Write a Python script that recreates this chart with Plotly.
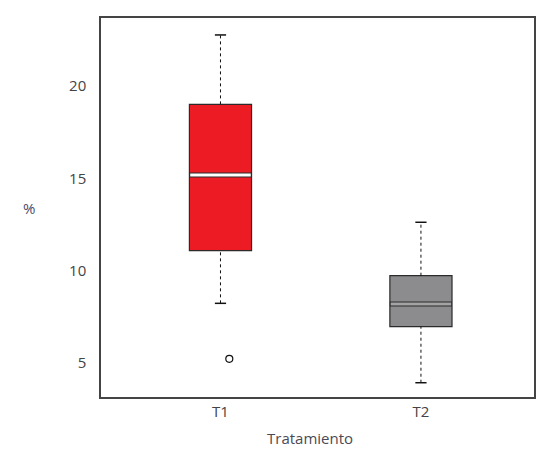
import plotly.graph_objects as go

# boxplot statistics
groups = ["T1", "T2"]
lower_whisker = [8.21, 3.90]
q1 = [11.07, 6.95]
median = [15.18, 8.18]
q3 = [19.01, 9.71]
upper_whisker = [22.78, 12.61]
outlier_group = ["T1"]
outlier_value = [5.2]

fills = ["#ED1C24", "#8C8C8E"]
gap_colors = ["#FFFFFF", "#A3A3A5"]
edge = "#2B2B2B"
pos = [1, 2]
w = 0.31

fig = go.Figure()

for i, g in enumerate(groups):
    p = pos[i]
    # dashed whiskers
    for a, b in [(lower_whisker[i], q1[i]), (q3[i], upper_whisker[i])]:
        fig.add_trace(go.Scatter(x=[p, p], y=[a, b], mode="lines",
                                 line=dict(color="#111111", width=1, dash="3px,3px")))
    # whisker caps
    fig.add_trace(go.Scatter(x=[p, p], y=[lower_whisker[i], upper_whisker[i]], mode="markers",
                             marker=dict(symbol="line-ew", size=8,
                                         line=dict(color="#111111", width=1.5))))
    # box
    fig.add_trace(go.Bar(x=[p], y=[q3[i] - q1[i]], base=[q1[i]], width=w,
                         marker=dict(color=fills[i], line=dict(color=edge, width=1.2))))
    # median drawn as a split
    fig.add_trace(go.Scatter(x=[p - w / 2, p + w / 2], y=[median[i], median[i]], mode="lines",
                             line=dict(color=edge, width=5)))
    fig.add_trace(go.Scatter(x=[p - w / 2 + 0.004, p + w / 2 - 0.004], y=[median[i], median[i]],
                             mode="lines", line=dict(color=gap_colors[i], width=3)))

# outliers
fig.add_trace(go.Scatter(x=[pos[groups.index(g)] + 0.044 for g in outlier_group], y=outlier_value,
                         mode="markers",
                         marker=dict(symbol="circle-open", size=7, color="#111111",
                                     line=dict(width=1.2))))

font = dict(family="Open Sans, DejaVu Sans", size=15, color="#444444")
fig.update_layout(
    width=548, height=459,
    margin=dict(l=101, r=14, t=18, b=62),
    paper_bgcolor="white", plot_bgcolor="white",
    showlegend=False,
    font=font,
)
fig.update_xaxes(range=[0.404, 2.564], tickvals=pos, ticktext=groups, automargin=False,
                 showgrid=False, zeroline=False, showline=True, mirror=True,
                 linecolor="#444444", linewidth=1.5, ticks="")
fig.update_yaxes(range=[3.125, 23.70], tickvals=[5, 10, 15, 20], automargin=False,
                 showgrid=False, zeroline=False, showline=True, mirror=True,
                 linecolor="#444444", linewidth=1.5, ticks="", ticklabelstandoff=10)
# axis labels
fig.add_annotation(text="%", xref="paper", yref="paper", x=-0.166, y=0.5,
                   xanchor="center", yanchor="middle",
                   showarrow=False, font=dict(size=15, color="#4a4a6a"))
fig.add_annotation(text="Tratamiento", xref="paper", yref="paper", x=0.483, y=-0.107,
                   xanchor="center", yanchor="middle",
                   showarrow=False, font=dict(size=15, color="#4a4a55"))

fig.write_html("out.html", config={"displayModeBar": False},
               post_script="document.body.style.margin='0';")
